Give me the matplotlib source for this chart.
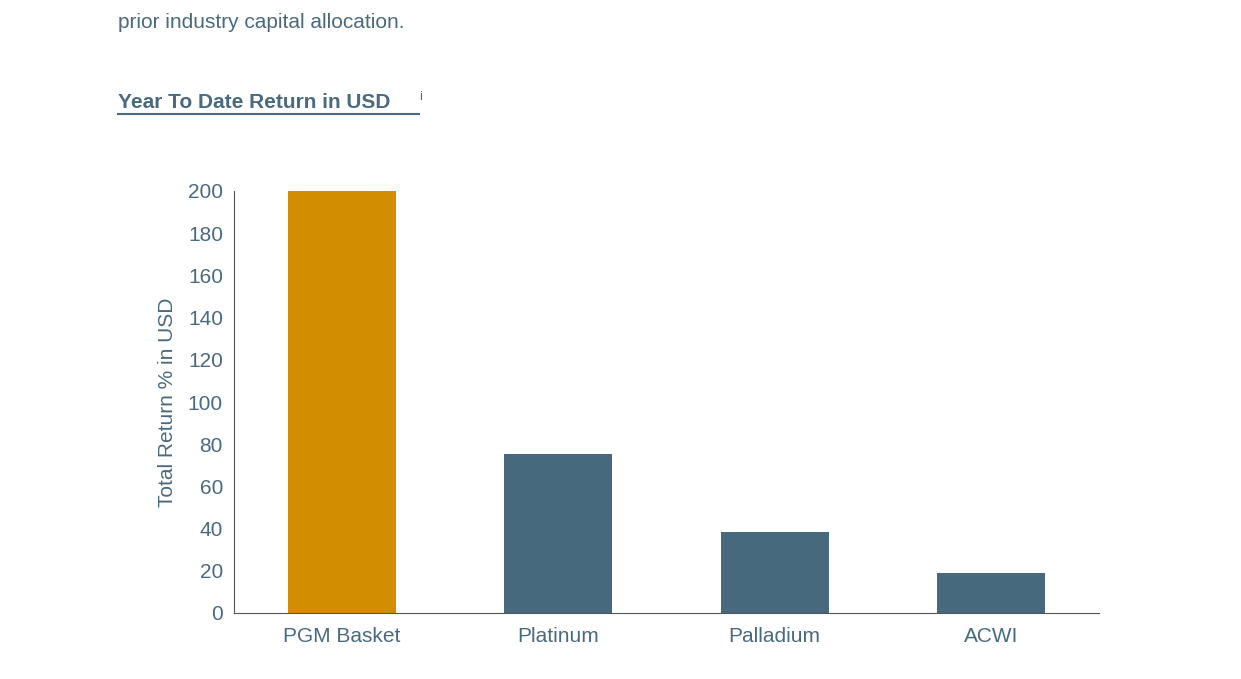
import matplotlib
matplotlib.use("Agg")
import matplotlib.pyplot as plt

categories = ["PGM Basket", "Platinum", "Palladium", "ACWI"]
values = [200, 75.5, 38.5, 19]
colors = ["#D38E00", "#46697E", "#46697E", "#46697E"]
yticks = list(range(0, 201, 20))

txt = "#4A6A80"
plt.rcParams["font.family"] = ["Liberation Sans", "DejaVu Sans"]

fig = plt.figure(figsize=(12.41, 6.79), dpi=100)
ax = fig.add_axes([234/1241, 1-613/679, (1099-234)/1241, (613-191)/679])
ax.bar(categories, values, width=0.5, color=colors)
ax.set_xlim(-0.5, 3.5)
ax.set_ylim(0, 200)
ax.set_yticks(yticks)
ax.tick_params(axis="both", colors=txt, labelsize=15, length=0, pad=8)
ax.tick_params(axis="x", pad=10)
for s in ["top", "right"]:
    ax.spines[s].set_visible(False)
for s in ["left", "bottom"]:
    ax.spines[s].set_color("#555555")
ax.set_ylabel("Total Return % in USD", color=txt, fontsize=15, labelpad=8)

fig.text(118/1241, 1-22/679, "prior industry capital allocation.", color=txt,
         fontsize=15, va="center")
t = fig.text(118/1241, 1-103/679, "Year To Date Return in USD", color=txt,
             fontsize=15, fontweight="bold", va="center")
fig.text(419/1241, 1-97/679, "i", color=txt, fontsize=9, va="center")
fig.canvas.draw()
bb = t.get_window_extent()
fig.add_artist(plt.Line2D([bb.x0/1241, 419/1241], [1-114/679]*2, color=txt, lw=1.5))

fig.savefig("out.png", dpi=100)
